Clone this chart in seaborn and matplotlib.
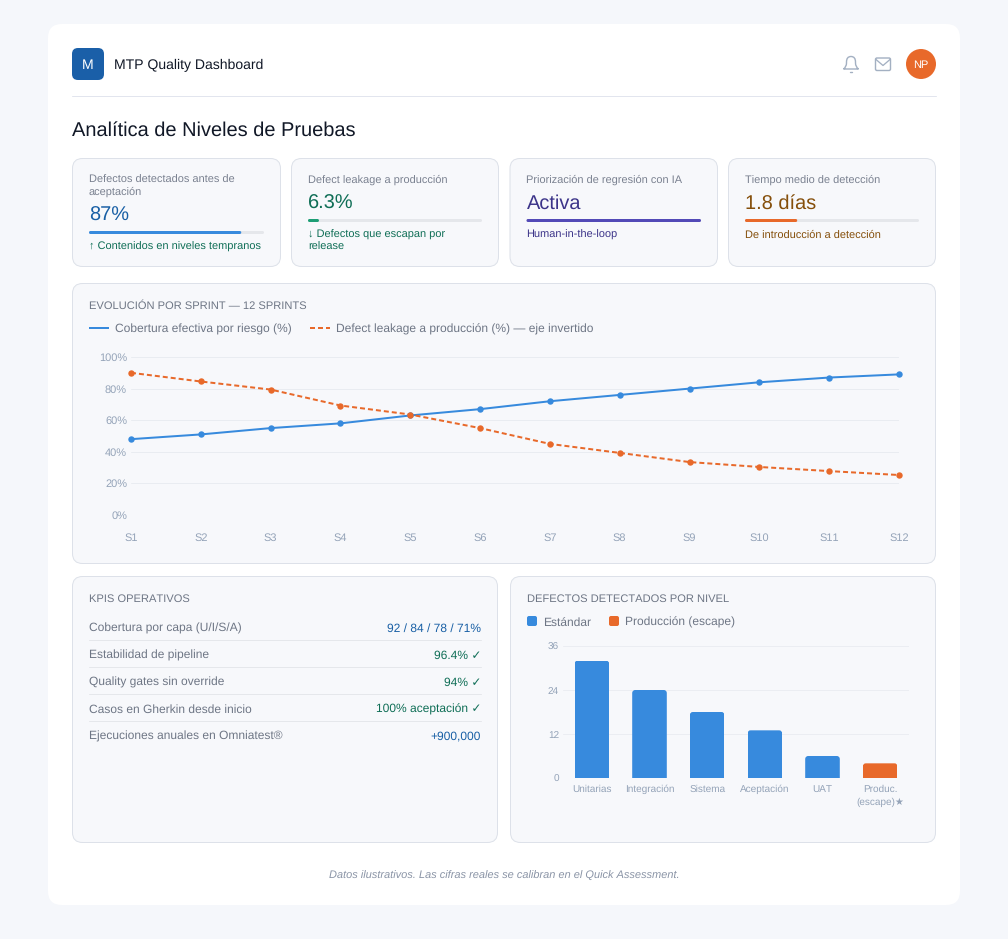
import matplotlib
matplotlib.use("Agg")
import matplotlib.pyplot as plt
import pandas as pd
import seaborn as sns
from matplotlib.patches import FancyBboxPatch, Circle, PathPatch
from matplotlib.path import Path
from matplotlib.transforms import IdentityTransform

sprints = ["S1","S2","S3","S4","S5","S6","S7","S8","S9","S10","S11","S12"]
cobertura = [48,51,55,58,63,67,72,76,80,84,87,89]
leakage = [90,84.5,79.4,69.3,63.6,55,45,39.3,33.5,30.4,27.8,25.3]
serie_cob = "Cobertura efectiva por riesgo (%)"
serie_leak = "Defect leakage a producción (%) — eje invertido"

niveles = ["Unitarias","Integración","Sistema","Aceptación","UAT","Produc.\n(escape)★"]
defectos = [32,24,18,13,6,4]
tipo = ["Estándar"]*5 + ["Producción (escape)"]

kpi_names = ["Cobertura por capa (U/I/S/A)","Estabilidad de pipeline","Quality gates sin override",
             "Casos en Gherkin desde inicio","Ejecuciones anuales en Omniatest®"]
kpi_values = ["92 / 84 / 78 / 71%","96.4% ✓","94% ✓","100% aceptación ✓","+900,000"]

card_labels = [["Defectos detectados antes de","aceptación"],["Defect leakage a producción"],
               ["Priorización de regresión con IA"],["Tiempo medio de detección"]]
card_values = ["87%","6.3%","Activa","1.8 días"]
card_progress = [87,6.3,100,30]
card_notes = [["↑ Contenidos en niveles tempranos"],["↓ Defectos que escapan por","release"],
              ["Human-in-the-loop"],["De introducción a detección"]]

BLUE="#378ADD"; ORANGE="#E8692A"
W,H=1008,939
sns.set_theme(style="white")
plt.rcParams["font.family"]=["Liberation Sans","DejaVu Sans"]
plt.rcParams["text.hinting"]="no_hinting"
plt.rcParams["text.kerning_factor"]=6
fig=plt.figure(figsize=(W/100,H/100),dpi=100,facecolor="#F5F7FB")
px=lambda v:v*0.72

bg=fig.add_axes([0,0,1,1],zorder=0)
bg.set_xlim(0,W); bg.set_ylim(H,0); bg.axis("off")

def box(x0,y0,x1,y1,r,fc,ec="none",lw=1.0,z=1):
    bg.add_patch(FancyBboxPatch((x0+r,y0+r),x1-x0-2*r,y1-y0-2*r,boxstyle=f"round,pad={r},rounding_size={r}",
                                fc=fc,ec=ec,lw=lw*0.72,zorder=z))
def txt(x,y,s,size,color,ha="left",**k):
    bg.text(x,y+0.35*size+0.3,s,fontsize=px(size),color=color,ha=ha,va="baseline",zorder=5,**k)

PANEL="#F7F8FB"; BORDER="#DDE1E9"
LABEL="#7A8190"; BODY="#6E7685"; HEAD="#6E7685"
box(48,24,960,905,14,"#FFFFFF")
# header
box(72,48,104,80,6,"#1A5FA8")
txt(88,64,"M",14,"#FFFFFF",ha="center")
txt(114,64,"MTP Quality Dashboard",14,"#111827")
bg.plot([72,936],[96.2,96.2],color="#E2E5EE",lw=0.72,zorder=2)
txt(72,128,"Analítica de Niveles de Pruebas",20,"#111827")
# bell
ICON="#A3B0C2"
bell=Path([(843.5,69),(846.5,67),(846.5,63),(846.5,62),(846.5,56.5),(851,56.5),(855.5,56.5),(855.5,62),(855.5,63),(855.5,67),(858.5,69),(843.5,69)],
          [1,3,3,2,3,3,3,3,2,3,3,2])
bg.add_patch(PathPatch(bell,fc="none",ec=ICON,lw=px(1.4),zorder=3))
bg.plot([849.8,852.2],[71.8,71.8],color=ICON,lw=px(1.4),zorder=3)
# mail
box(875.5,58,890.5,70.5,1.5,"none",ec=ICON,lw=1.4,z=3)
bg.plot([876,883,890],[59.5,65.5,59.5],color=ICON,lw=px(1.3),zorder=3)
bg.add_patch(Circle((921,64),15,fc=ORANGE,ec="none",zorder=3))
txt(921,64,"NP",11,"#FFFFFF",ha="center")

# KPI cards
cards=[(72,281),(291,499),(509.5,718),(728,936)]
val_col=["#185FA5","#0F6E56","#3C3489","#854F0B"]
note_col=["#0F6E56","#0F6E56","#3C3489","#854F0B"]
bar_col=[BLUE,"#1D9E75","#534AB7",ORANGE]
for (x0,x1),lab,val,prog,note,vc,nc,bc in zip(cards,card_labels,card_values,card_progress,card_notes,val_col,note_col,bar_col):
    box(x0+.5,158.5,x1-.5,266.5,10,PANEL,BORDER)
    tx=x0+17
    for i,l in enumerate(lab):
        txt(tx,179+12*i,l,11,LABEL)
    sh=12*(len(lab)-1)
    txt(tx,201+sh,val,20,vc)
    by=219+sh
    fw=x1-x0-34
    box(tx,by,tx+fw,by+3,1.5,"#E5E7EB",z=2)
    box(tx,by,tx+fw*prog/100,by+3,1.5,bc,z=3)
    for i,l in enumerate(note):
        txt(tx,234+sh+12*i,l,11,nc)

# panels
box(72.5,283.5,935.5,563.5,10,PANEL,BORDER)
box(72.5,576.5,497.5,842.5,10,PANEL,BORDER)
box(510.5,576.5,935.5,842.5,10,PANEL,BORDER)
txt(89,305,"EVOLUCIÓN POR SPRINT — 12 SPRINTS",11.1,HEAD)
txt(89,598,"KPIS OPERATIVOS",11.1,HEAD)
txt(527,598,"DEFECTOS DETECTADOS POR NIVEL",11.1,HEAD)

# line legend
bg.plot([89,109],[328,328],color=BLUE,lw=1.44,solid_capstyle="butt",zorder=3)
txt(115,328,serie_cob,12,BODY)
bg.plot([310,330],[328,328],color=ORANGE,lw=1.44,dashes=(2.5,1.5),zorder=3)
txt(336,328,serie_leak,12,BODY)

# KPI rows
kc=["#185FA5","#0F6E56","#0F6E56","#0F6E56","#185FA5"]
for i,(n,v,c) in enumerate(zip(kpi_names,kpi_values,kc)):
    y=627+27*i
    txt(89,y,n,12,BODY)
    txt(481,y,v,12,c,ha="right")
    if i<4:
        bg.plot([89,481],[y+13.2,y+13.2],color="#E5E7EB",lw=0.72,zorder=3)

# footer
txt(504,875,"Datos ilustrativos. Las cifras reales se calibran en el Quick Assessment.",11,"#8A94A6",ha="center",style="italic")

def axes_px(x0,y0,x1,y1):
    a=fig.add_axes([x0/W,1-y1/H,(x1-x0)/W,(y1-y0)/H],zorder=2)
    a.patch.set_visible(False)
    return a

# line chart
ax=axes_px(131,357,899,515)
df=pd.DataFrame({"sprint":sprints*2,"valor":cobertura+leakage,
                 "serie":[serie_cob]*12+[serie_leak]*12})
sns.lineplot(data=df,x="sprint",y="valor",hue="serie",style="serie",ax=ax,legend=False,
             palette={serie_cob:BLUE,serie_leak:ORANGE},
             dashes={serie_cob:"",serie_leak:(2.5,1.5)},
             markers={serie_cob:"o",serie_leak:"o"},
             markersize=px(6.4),markeredgewidth=0,linewidth=1.44,clip_on=False,sort=False)
ax.set_xlim(0,11); ax.set_ylim(0,100)
ax.set_yticks([0,20,40,60,80,100]); ax.set_yticklabels([f"{v}%" for v in [0,20,40,60,80,100]])
ax.grid(axis="y",color="#E9ECF1",lw=0.72); ax.set_axisbelow(True)
ax.set_xlabel(""); ax.set_ylabel("")
ax.tick_params(axis="y",length=0,pad=px(4),labelsize=px(11),labelcolor="#94A3B8")
ax.tick_params(axis="x",length=0,pad=px(17.5),labelsize=px(11),labelcolor="#94A3B8")
sns.despine(ax=ax,left=True,bottom=True)

# bar chart
ax2=axes_px(563,646,909,778)
bdf=pd.DataFrame({"nivel":niveles,"defectos":defectos,"tipo":tipo})
sns.barplot(data=bdf,x="nivel",y="defectos",hue="tipo",dodge=False,width=0.6,ax=ax2,legend=False,
            palette={"Estándar":BLUE,"Producción (escape)":ORANGE},saturation=1,linewidth=0)
ax2.set_xlim(-.5,5.5); ax2.set_ylim(0,36)
ax2.set_yticks([0,12,24,36])
ax2.grid(axis="y",color="#EBEDF2",lw=0.72); ax2.set_axisbelow(True)
ax2.set_xlabel(""); ax2.set_ylabel("")
ax2.tick_params(axis="y",length=0,pad=px(4),labelsize=px(10),labelcolor="#94A3B8")
ax2.tick_params(axis="x",length=0,pad=px(6.5),labelsize=px(10),labelcolor="#94A3B8")
for l in ax2.get_xticklabels():
    l.set_linespacing(1.5)
sns.despine(ax=ax2,left=True,bottom=True)
fig.canvas.draw()
for b in ax2.patches:
    if b.get_height()<=0: continue
    bb=b.get_window_extent()
    clip=FancyBboxPatch((bb.x0,bb.y0-10),bb.width,bb.height+10,boxstyle="round,pad=0,rounding_size=3",
                        transform=IdentityTransform())
    b.set_clip_path(clip)

# bar legend
box(527,616,537,626,2,BLUE,z=3)
txt(542.6,621,"Estándar",12,BODY)
box(609,616,619,626,2,ORANGE,z=3)
txt(625,621,"Producción (escape)",12,BODY)

fig.savefig("out.png",dpi=100,facecolor=fig.get_facecolor())
